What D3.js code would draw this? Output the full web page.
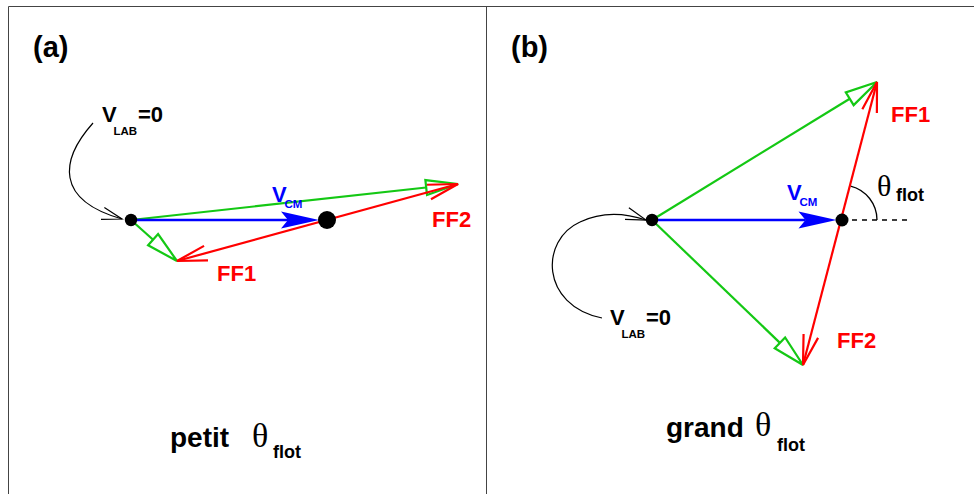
<!DOCTYPE html>
<html>
<head>
<meta charset="utf-8">
<script src="https://cdn.jsdelivr.net/npm/d3@7"></script>
<style>
  html, body { margin: 0; padding: 0; background: #fff; }
  svg { display: block; }
  text { font-family: "Liberation Sans", Arial, Helvetica, sans-serif; font-weight: bold; }
  .greek { font-family: "Liberation Serif", "Times New Roman", serif; font-weight: normal; }
</style>
</head>
<body>
<svg id="chart" width="974" height="494"></svg>
<script>
// ---- data (velocity-diagram vectors, arbitrary units, lab origin = 0) ----
const panelNames = ["(a)", "(b)"];
const panelCaptions = ["petit", "grand"];
const vcm = [19.6, 19.0];                       // centre-of-mass velocity (x only)
const ff1Tip = [[4.6, -4.1], [22.5, 13.8]];     // lab velocity of fragment 1
const ff2Tip = [[32.7, 3.6], [15.1, -14.5]];    // lab velocity of fragment 2
const fragmentLabels = ["FF1", "FF2"];
const thetaLabel = "θ";
const thetaSub = "flot";

// ---- layout ----
const svg = d3.select("#chart");
const GREEN = "#14c814", RED = "#ff0000", BLUE = "#0000ff";
const origins = [[131, 220], [652, 220]];
const unit = 10;
const scales = origins.map(o => ({
  x: d3.scaleLinear().domain([0, 1]).range([o[0], o[0] + unit]),
  y: d3.scaleLinear().domain([0, 1]).range([o[1], o[1] - unit])
}));

// frame
svg.append("path").attr("d", "M8.5,494 V6.5 H974").attr("fill", "none").attr("stroke", "#444").attr("stroke-width", 1);
svg.append("line").attr("x1", 486.5).attr("x2", 486.5).attr("y1", 6).attr("y2", 494).attr("stroke", "#444");

function unitVec(a, b) { const dx = b[0]-a[0], dy = b[1]-a[1], l = Math.hypot(dx, dy); return [dx/l, dy/l]; }

function openTriangleArrow(g, from, to, color) {
  const u = unitVec(from, to), L = 32, W = 7.5;
  const back = [to[0] - u[0]*L, to[1] - u[1]*L];
  const n = [-u[1], u[0]];
  g.append("line").attr("x1", from[0]).attr("y1", from[1]).attr("x2", back[0]).attr("y2", back[1])
    .attr("stroke", color).attr("stroke-width", 2.2);
  g.append("path").attr("d", d3.line()([[back[0]+n[0]*W, back[1]+n[1]*W], to, [back[0]-n[0]*W, back[1]-n[1]*W]]) + "Z")
    .attr("fill", "none").attr("stroke", color).attr("stroke-width", 2.2).attr("stroke-linejoin", "miter");
}

function barbs(g, tip, dirFromTip, len, angDeg, color, sw) {
  const a = angDeg * Math.PI / 180;
  const pts = [-1, 1].map(s => {
    const c = Math.cos(s*a), si = Math.sin(s*a);
    const dx = dirFromTip[0]*c - dirFromTip[1]*si, dy = dirFromTip[0]*si + dirFromTip[1]*c;
    return [tip[0] + dx*len, tip[1] + dy*len];
  });
  g.append("path").attr("d", d3.line()([pts[0], tip, pts[1]]))
    .attr("fill", "none").attr("stroke", color).attr("stroke-width", sw);
}

function filledHead(g, from, to, color) {
  const u = unitVec(from, to), L = 38, W = 8.5, notch = 7;
  const n = [-u[1], u[0]];
  const back = [to[0]-u[0]*L, to[1]-u[1]*L];
  const inner = [to[0]-u[0]*(L-notch), to[1]-u[1]*(L-notch)];
  g.append("line").attr("x1", from[0]).attr("y1", from[1]).attr("x2", inner[0]).attr("y2", inner[1])
    .attr("stroke", color).attr("stroke-width", 2.6);
  g.append("path").attr("d", d3.line()([to, [back[0]+n[0]*W, back[1]+n[1]*W], inner, [back[0]-n[0]*W, back[1]-n[1]*W]]) + "Z")
    .attr("fill", color).attr("stroke", "none");
}

function subText(g, x, y, main, sub, size, subSize, color, dx, dy) {
  g.append("text").attr("x", x).attr("y", y).attr("fill", color).attr("font-size", size).text(main);
  g.append("text").attr("x", x + dx).attr("y", y + dy).attr("font-size", subSize).attr("fill", color).text(sub);
}

// curves from "V_LAB=0" label to lab origin
const curves = [
  { d: "M93,123 C60,160 55,200 122,219", tip: [122, 219], c2: [55, 200] },
  { d: "M602,318 C540,305 540,240 580,222 C605,210 628,214 646,220", tip: [646, 220], c2: [628, 214] }
];
const vlabPos = [[102, 122], [610, 325]];
const vcmPos = [[272, 202], [787, 200]];
const ff1Pos = [[217, 281], [891, 122]];
const ff2Pos = [[432, 227], [837, 348]];
const namePos = [[33, 57], [511, 57]];
const capPos = [[170, 447, 252, 273], [666, 437, 755, 777]];
const cmRadius = [9, 6.5];

[0, 1].forEach(i => {
  const g = svg.append("g");
  const sx = scales[i].x, sy = scales[i].y;
  const O = [sx(0), sy(0)];
  const CM = [sx(vcm[i]), sy(0)];
  const P1 = [sx(ff1Tip[i][0]), sy(ff1Tip[i][1])];
  const P2 = [sx(ff2Tip[i][0]), sy(ff2Tip[i][1])];

  // black curve with open head
  g.append("path").attr("d", curves[i].d).attr("fill", "none").attr("stroke", "#000").attr("stroke-width", 1.2);
  barbs(g, curves[i].tip, unitVec(curves[i].tip, curves[i].c2), 21, 17, "#000", 1.2);

  // dashed reference + theta arc (panel b)
  if (i === 1) {
    g.append("line").attr("x1", CM[0]).attr("y1", CM[1]).attr("x2", 908).attr("y2", CM[1])
      .attr("stroke", "#000").attr("stroke-width", 1.5).attr("stroke-dasharray", "5,5");
    const up = unitVec(CM, P1);
    const ang = Math.atan2(up[0], -up[1]); // d3.arc angle (0 = up, clockwise)
    const arc = d3.arc().innerRadius(35).outerRadius(35).startAngle(ang).endAngle(Math.PI / 2);
    g.append("path").attr("d", arc()).attr("transform", `translate(${CM[0]},${CM[1]})`)
      .attr("fill", "none").attr("stroke", "#000").attr("stroke-width", 1.3);
  }

  // green lab-frame velocities
  openTriangleArrow(g, O, P1, GREEN);
  openTriangleArrow(g, O, P2, GREEN);

  // red CM-frame fragment velocities
  g.append("line").attr("x1", P1[0]).attr("y1", P1[1]).attr("x2", P2[0]).attr("y2", P2[1])
    .attr("stroke", RED).attr("stroke-width", 2.2);
  barbs(g, P1, unitVec(P1, CM), 31, 14, RED, 2.2);
  barbs(g, P2, unitVec(P2, CM), 31, 14, RED, 2.2);

  // blue V_CM
  filledHead(g, O, [CM[0] - cmRadius[i] + 1, CM[1]], BLUE);

  // dots
  g.append("circle").attr("cx", O[0]).attr("cy", O[1]).attr("r", 6.2).attr("fill", "#000");
  g.append("circle").attr("cx", CM[0]).attr("cy", CM[1]).attr("r", cmRadius[i]).attr("fill", "#000");

  // labels
  g.append("text").attr("x", namePos[i][0]).attr("y", namePos[i][1]).attr("font-size", 29).text(panelNames[i]);
  subText(g, vlabPos[i][0], vlabPos[i][1], "V", "LAB", 22, 11.5, "#000", 11.5, 13);
  g.append("text").attr("x", vlabPos[i][0] + 36).attr("y", vlabPos[i][1]).attr("font-size", 22).text("=0");
  subText(g, vcmPos[i][0], vcmPos[i][1], "V", "CM", 22, 11.5, BLUE, 12.5, 6);
  g.append("text").attr("x", ff1Pos[i][0]).attr("y", ff1Pos[i][1]).attr("font-size", 22).attr("fill", RED).text(fragmentLabels[0]);
  g.append("text").attr("x", ff2Pos[i][0]).attr("y", ff2Pos[i][1]).attr("font-size", 22).attr("fill", RED).text(fragmentLabels[1]);

  const cp = capPos[i];
  g.append("text").attr("x", cp[0]).attr("y", cp[1]).attr("font-size", 28).text(panelCaptions[i]);
  g.append("text").attr("class", "greek").attr("x", cp[2]).attr("y", cp[1] - (i === 1 ? 1 : 0)).attr("font-size", 34).text(thetaLabel);
  g.append("text").attr("x", cp[3]).attr("y", cp[1] + 11 + (i === 1 ? 3 : 0)).attr("font-size", 18).text(thetaSub);

  if (i === 1) {
    g.append("text").attr("class", "greek").attr("x", 877).attr("y", 196).attr("font-size", 30).text(thetaLabel);
    g.append("text").attr("x", 896).attr("y", 201).attr("font-size", 18).text(thetaSub);
  }
});
</script>
</body>
</html>
